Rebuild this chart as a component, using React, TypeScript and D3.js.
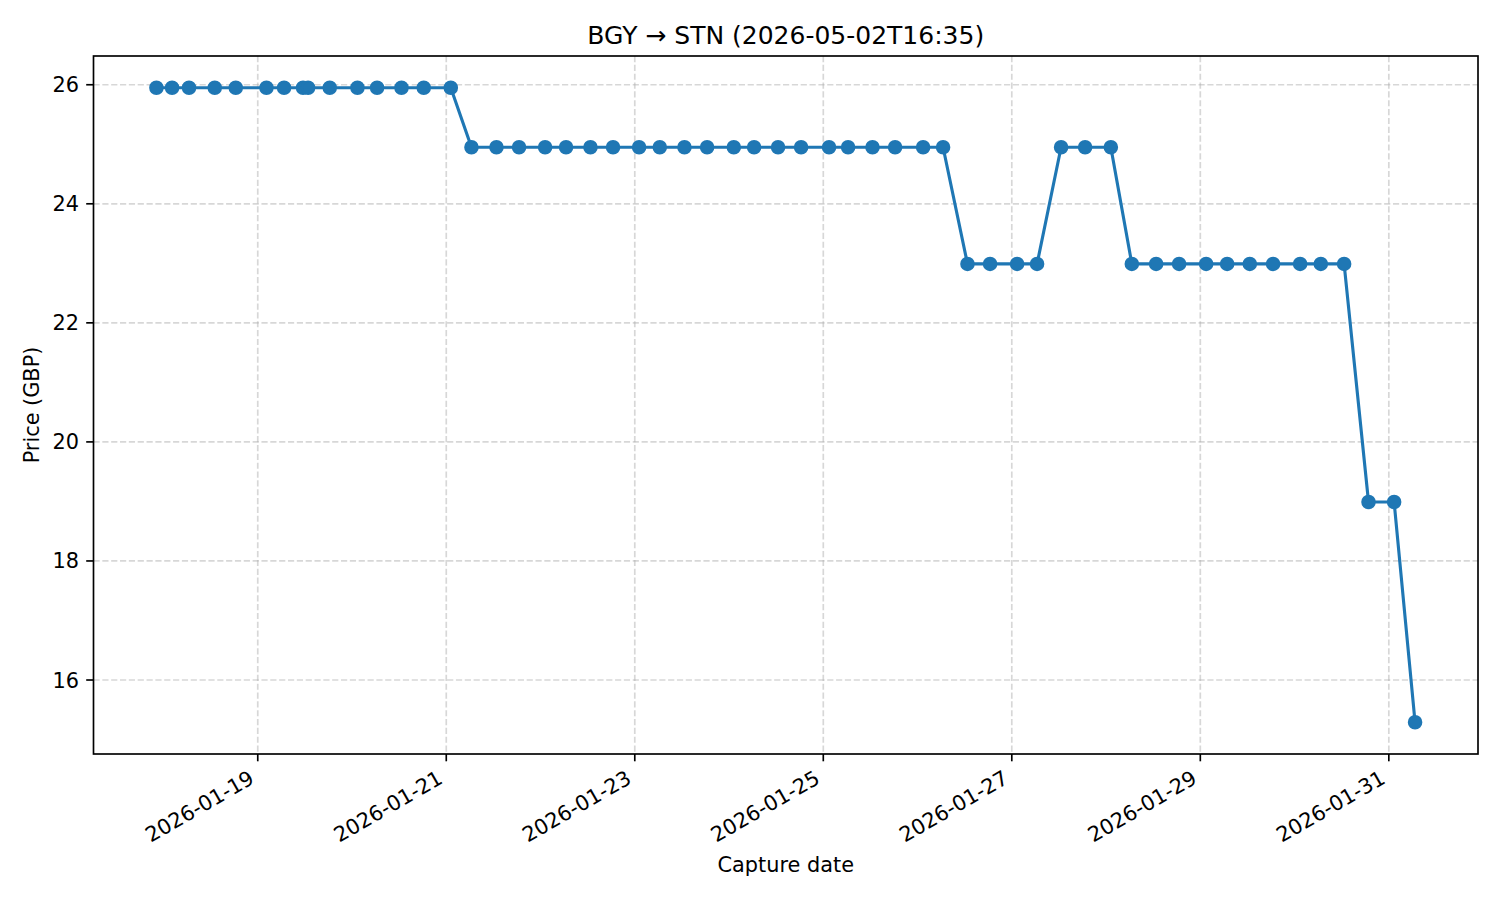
import React from "react";
import * as d3 from "d3";

const TITLE = "BGY → STN (2026-05-02T16:35)";
const X_LABEL = "Capture date";
const Y_LABEL = "Price (GBP)";

const captureTimes: string[] = [
  "2026-01-17T22:12", "2026-01-18T02:11", "2026-01-18T06:30", "2026-01-18T13:03", "2026-01-18T18:24",
  "2026-01-19T02:13", "2026-01-19T06:42", "2026-01-19T11:32", "2026-01-19T12:49", "2026-01-19T18:20",
  "2026-01-20T01:23", "2026-01-20T06:23", "2026-01-20T12:36", "2026-01-20T18:16", "2026-01-21T01:09",
  "2026-01-21T06:25", "2026-01-21T12:47", "2026-01-21T18:32", "2026-01-22T01:10", "2026-01-22T06:30",
  "2026-01-22T12:43", "2026-01-22T18:28", "2026-01-23T01:06", "2026-01-23T06:22", "2026-01-23T12:39",
  "2026-01-23T18:25", "2026-01-24T01:13", "2026-01-24T06:23", "2026-01-24T12:29", "2026-01-24T18:21",
  "2026-01-25T01:28", "2026-01-25T06:19", "2026-01-25T12:32", "2026-01-25T18:17", "2026-01-26T01:25",
  "2026-01-26T06:30",
  "2026-01-26T12:43", "2026-01-26T18:28", "2026-01-27T01:21", "2026-01-27T06:26",
  "2026-01-27T12:33", "2026-01-27T18:40", "2026-01-28T01:13",
  "2026-01-28T06:34", "2026-01-28T12:45", "2026-01-28T18:36", "2026-01-29T01:29", "2026-01-29T06:50",
  "2026-01-29T12:36", "2026-01-29T18:32", "2026-01-30T01:25", "2026-01-30T06:41", "2026-01-30T12:37",
  "2026-01-30T18:50", "2026-01-31T01:21",
  "2026-01-31T06:41",
];

const prices: number[] = [
  25.95, 25.95, 25.95, 25.95, 25.95,
  25.95, 25.95, 25.95, 25.95, 25.95,
  25.95, 25.95, 25.95, 25.95, 25.95,
  24.95, 24.95, 24.95, 24.95, 24.95,
  24.95, 24.95, 24.95, 24.95, 24.95,
  24.95, 24.95, 24.95, 24.95, 24.95,
  24.95, 24.95, 24.95, 24.95, 24.95,
  24.95,
  22.99, 22.99, 22.99, 22.99,
  24.95, 24.95, 24.95,
  22.99, 22.99, 22.99, 22.99, 22.99,
  22.99, 22.99, 22.99, 22.99, 22.99,
  18.99, 18.99,
  15.29,
];

const xTickLabels: string[] = [
  "2026-01-19", "2026-01-21", "2026-01-23", "2026-01-25", "2026-01-27", "2026-01-29", "2026-01-31",
];
const yTickValues: number[] = [16, 18, 20, 22, 24, 26];

const parseUTC = (s: string) => {
  const [d, t] = s.split("T");
  const [Y, M, D] = d.split("-").map(Number);
  const [h, m] = (t || "00:00").split(":").map(Number);
  return new Date(Date.UTC(Y, M - 1, D, h, m));
};

const W = 1500;
const H = 900;
const L = 93.5;
const R = 1478;
const T = 56;
const B = 754;
const FONT = "'DejaVu Sans', sans-serif";
const BLUE = "#1f77b4";

export default function App() {
  const data = captureTimes.map((t, i) => ({ x: parseUTC(t), y: prices[i] }));
  const [x0, x1] = d3.extent(data, (d) => d.x.getTime()) as [number, number];
  const xp = (x1 - x0) * 0.05;
  const x = d3.scaleUtc().domain([x0 - xp, x1 + xp]).range([L, R]);
  const [y0, y1] = d3.extent(data, (d) => d.y) as [number, number];
  const yp = (y1 - y0) * 0.05;
  const y = d3.scaleLinear().domain([y0 - yp, y1 + yp]).range([B, T]);

  const line = d3
    .line<{ x: Date; y: number }>()
    .x((d) => x(d.x))
    .y((d) => y(d.y));

  const tickLen = 7.3;
  const pad = 7.3;
  const fs = 20.83;

  return (
    <svg
      width={W}
      height={H}
      style={{ position: "absolute", left: 0, top: 0, display: "block", background: "#fff" }}
      fontFamily={FONT}
    >
      <rect x={0} y={0} width={W} height={H} fill="#fff" />
      {/* grid */}
      {xTickLabels.map((lab) => {
        const px = x(parseUTC(lab));
        return (
          <line key={"gx" + lab} x1={px} x2={px} y1={T} y2={B} stroke="#b0b0b0" strokeOpacity={0.5}
            strokeWidth={1.67} strokeDasharray="6.17,2.67" />
        );
      })}
      {yTickValues.map((v) => (
        <line key={"gy" + v} x1={L} x2={R} y1={y(v)} y2={y(v)} stroke="#b0b0b0" strokeOpacity={0.5}
          strokeWidth={1.67} strokeDasharray="6.17,2.67" />
      ))}
      {/* data */}
      <path d={line(data) || ""} fill="none" stroke={BLUE} strokeWidth={3.125} strokeLinejoin="round" strokeLinecap="square" />
      {data.map((d, i) => (
        <circle key={i} cx={x(d.x)} cy={y(d.y)} r={6.25} fill={BLUE} stroke={BLUE} strokeWidth={2.08} />
      ))}
      {/* spines */}
      <rect x={L} y={T} width={R - L} height={B - T} fill="none" stroke="#000" strokeWidth={1.67} />
      {/* x ticks */}
      {xTickLabels.map((lab) => {
        const px = x(parseUTC(lab));
        const bx = px - 0.5 * 0.208 * fs;
        const by = B + tickLen + pad + 0.866 * 0.76 * fs;
        return (
          <g key={"xt" + lab}>
            <line x1={px} x2={px} y1={B} y2={B + tickLen} stroke="#000" strokeWidth={1.67} />
            <text transform={`translate(${bx},${by}) rotate(-30)`} textAnchor="end" fontSize={fs} fill="#000">
              {lab}
            </text>
          </g>
        );
      })}
      {/* y ticks */}
      {yTickValues.map((v) => (
        <g key={"yt" + v}>
          <line x1={L - tickLen} x2={L} y1={y(v)} y2={y(v)} stroke="#000" strokeWidth={1.67} />
          <text x={L - tickLen - pad} y={y(v)} dy="0.36em" textAnchor="end" fontSize={fs} fill="#000">
            {v}
          </text>
        </g>
      ))}
      {/* labels */}
      <text x={(L + R) / 2} y={872} textAnchor="middle" fontSize={fs} fill="#000">{X_LABEL}</text>
      <text transform={`translate(39,${(T + B) / 2}) rotate(-90)`} textAnchor="middle" fontSize={fs} fill="#000">
        {Y_LABEL}
      </text>
      <text x={(L + R) / 2} y={44} textAnchor="middle" fontSize={25} fill="#000">{TITLE}</text>
    </svg>
  );
}
